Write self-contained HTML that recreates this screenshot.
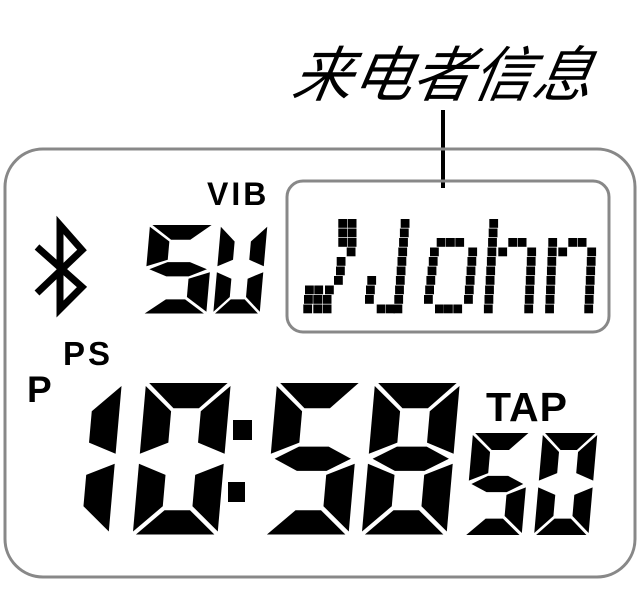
<!DOCTYPE html>
<html><head><meta charset="utf-8"><style>
html,body{margin:0;padding:0;background:#fff;width:640px;height:599px;overflow:hidden}
svg{display:block}
</style></head><body>
<svg width="640" height="599" viewBox="0 0 640 599" xmlns="http://www.w3.org/2000/svg">
<defs>
<polygon id="sa" points="3,0 77,0 52,25 28,25"/>
<polygon id="sb" points="80,3 80,70 54,59 54,28"/>
<polygon id="sf" points="0,3 26,28 26,59 0,70"/>
<polygon id="sg" points="4,75 26,63 54,63 76,75 54,87 26,87"/>
<polygon id="se" points="0,80 26,91 26,122 0,147"/>
<polygon id="sc" points="80,80 80,147 54,122 54,91"/>
<polygon id="sd" points="3,150 28,126 52,126 77,150"/>
<g id="d0"><use href="#sa"/><use href="#sb"/><use href="#sc"/><use href="#sd"/><use href="#se"/><use href="#sf"/></g>
<g id="d1"><use href="#sb"/><use href="#sc"/></g>
<g id="d5"><use href="#sa"/><use href="#sf"/><use href="#sg"/><use href="#sc"/><use href="#sd"/></g>
<g id="d8"><use href="#d0"/><use href="#sg"/></g>
<g id="dU"><use href="#sb"/><use href="#sc"/><use href="#sd"/><use href="#se"/><use href="#sf"/></g>
</defs>
<text x="290" y="96" font-family="'Liberation Sans','Noto Sans CJK SC',sans-serif" font-size="60" font-style="italic" fill="#000" transform="skewX(-10) translate(17,0)">来电者信息</text>
<line x1="443" y1="110" x2="443" y2="188" stroke="#000" stroke-width="4"/>
<rect x="5" y="149" width="630" height="428" rx="38" fill="none" stroke="#888" stroke-width="3"/>
<rect x="287" y="181" width="322" height="151" rx="16" fill="none" stroke="#888" stroke-width="3"/>
<g font-family="'Liberation Sans',sans-serif" font-weight="bold" fill="#000">
<text x="207" y="205" font-size="32" letter-spacing="3">VIB</text>
<text x="63" y="365" font-size="33" letter-spacing="3">PS</text>
<text x="27" y="402" font-size="37">P</text>
<text x="486" y="421" font-size="41" letter-spacing="1">TAP</text>
</g>
<polyline points="37,247 82,287 60,309 60,225 82,250 37,293" fill="none" stroke="#000" stroke-width="7" stroke-linejoin="miter"/>
<g fill="#000">
<use href="#d5" transform="translate(150,225) skewX(-5) scale(0.8,0.59)"/>
<use href="#dU" transform="translate(221,225) skewX(-5) scale(0.58,0.59)"/>
<use href="#d1" transform="translate(37,383) skewX(-5) scale(1.06,1.01)"/>
<use href="#d0" transform="translate(146,383) skewX(-5) scale(1.06,1.01)"/>
<use href="#d5" transform="translate(277,383) skewX(-5) scale(1.06,1.01)"/>
<use href="#d8" transform="translate(375,383) skewX(-5) scale(1.06,1.01)"/>
<rect x="233" y="420" width="19" height="20"/>
<rect x="228" y="482" width="17" height="20"/>
<use href="#d5" transform="translate(473,433) skewX(-5) scale(0.72,0.68)"/>
<use href="#d0" transform="translate(543,433) skewX(-5) scale(0.68,0.68)"/>
</g>
<g id="dots" fill="#000"></g>
</svg>
<script>
var cells=[];function R(r,x){cells.push([x,219+9.5*r]);}
R(0,338.3);R(0,347.7);R(1,338.3);R(1,347.7);R(2,338.3);R(2,347.7);R(3,346.7);R(4,336.7);R(5,336);R(6,334);
R(7,305);R(7,314.3);R(7,325);R(8,304);R(8,313.3);R(8,322.7);R(9,303.3);R(9,313.3);R(9,322.7);
for(var r=0;r<10;r++)R(r,400.7-0.8*r);
R(6,367.3);R(7,366);R(8,365);R(9,376.7);R(9,386);
R(2,436.7);R(2,446);R(2,455.3);for(r=3;r<9;r++){R(r,430-1.2*(r-3));R(r,468.3-0.85*(r-3));}
R(9,435);R(9,444);R(9,453.3);
for(r=0;r<10;r++)R(r,489.3-0.6*r);R(2,508.3);R(2,517.7);R(3,498.3);for(r=3;r<10;r++)R(r,527.3-0.5*(r-3));
for(r=2;r<10;r++)R(r,548.3-0.45*(r-2));R(2,568.3);R(2,577.7);R(3,558.3);for(r=3;r<10;r++)R(r,587.3-0.5*(r-3));
var g=document.getElementById('dots'),s='';
cells.forEach(function(c){s+='<rect x="'+c[0]+'" y="'+c[1]+'" width="8.8" height="8.8"/>';});
g.innerHTML=s;
</script>
</body></html>
